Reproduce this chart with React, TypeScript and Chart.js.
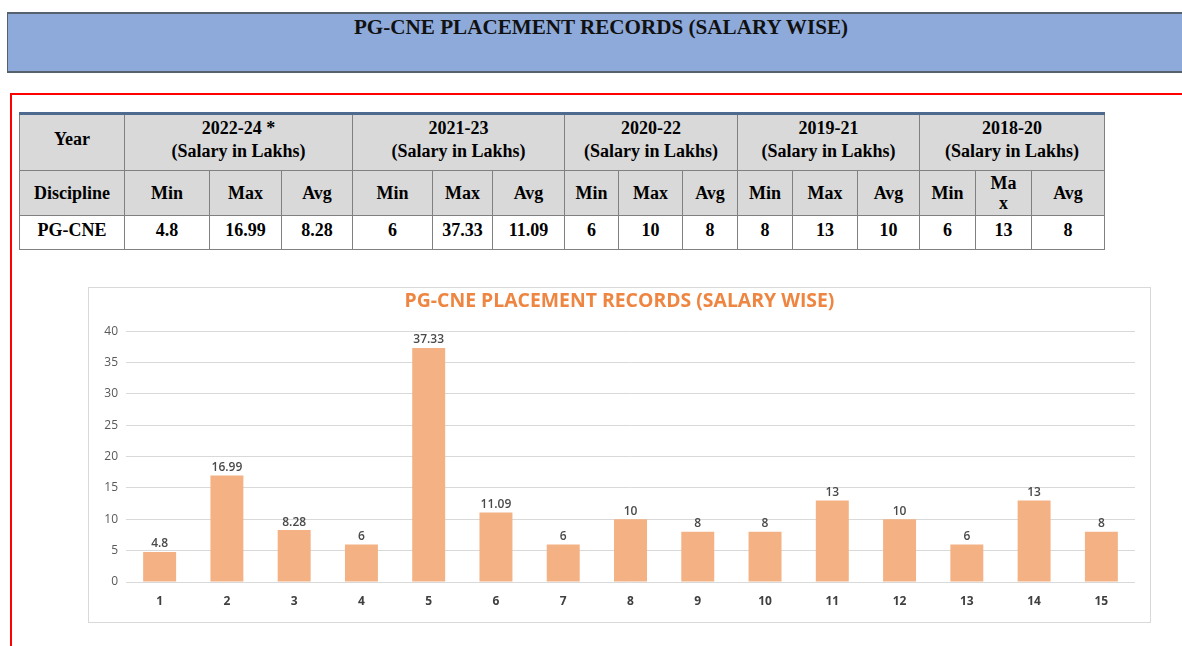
import React, { useEffect, useRef } from "react";
import { Chart, registerables } from "chart.js";

Chart.register(...registerables);

const pageTitle = "PG-CNE PLACEMENT RECORDS (SALARY WISE)";
const chartTitle = "PG-CNE PLACEMENT RECORDS (SALARY WISE)";
const discipline = "PG-CNE";
const periods = ["2022-24 *", "2021-23", "2020-22", "2019-21", "2018-20"];
const minSalary = ["4.8", "6", "6", "8", "6"];
const maxSalary = ["16.99", "37.33", "10", "13", "13"];
const avgSalary = ["8.28", "11.09", "8", "10", "8"];

const categories = ["1", "2", "3", "4", "5", "6", "7", "8", "9", "10", "11", "12", "13", "14", "15"];
const salaryValues = [4.8, 16.99, 8.28, 6, 37.33, 11.09, 6, 10, 8, 8, 13, 10, 6, 13, 8];
const yTicks = [0, 5, 10, 15, 20, 25, 30, 35, 40];

const colWidths = [105, 85, 72, 71, 80, 60, 72, 54, 64, 55, 55, 65, 62, 56, 56, 73];

const cellBorder = "1px solid #808080";
const serif = "'Liberation Serif', 'Times New Roman', serif";

const dataLabelPlugin = {
  id: "dataLabels",
  afterDatasetsDraw(chart: any) {
    const ctx = chart.ctx;
    const meta = chart.getDatasetMeta(0);
    const data = chart.data.datasets[0].data;
    ctx.save();
    ctx.font = "600 12px 'Open Sans', sans-serif";
    ctx.fillStyle = "#4A4A4A";
    ctx.textAlign = "center";
    ctx.textBaseline = "bottom";
    meta.data.forEach((el: any, i: number) => {
      ctx.fillText(String(data[i]), el.x, el.y - 2);
    });
    ctx.restore();
  },
};

function SalaryChart() {
  const ref = useRef<HTMLCanvasElement | null>(null);
  useEffect(() => {
    if (!ref.current) return;
    const chart = new Chart(ref.current, {
      type: "bar",
      data: {
        labels: categories,
        datasets: [
          {
            data: salaryValues,
            backgroundColor: "#F4B183",
            borderWidth: 0,
            categoryPercentage: 1,
            barPercentage: 0.49,
          },
        ],
      },
      options: {
        animation: false,
        responsive: false,
        maintainAspectRatio: false,
        layout: { padding: { left: 15, right: 15, top: 0, bottom: 0 } },
        plugins: {
          legend: { display: false },
          tooltip: { enabled: false },
          title: {
            display: true,
            text: chartTitle,
            color: "#EE8642",
            font: { family: "'Open Sans', sans-serif", size: 19.4, weight: "bold" },
            padding: { top: 2, bottom: 18 },
          },
        },
        scales: {
          x: {
            grid: { display: false, drawTicks: false },
            border: { display: false },
            ticks: {
              color: "#404040",
              font: { family: "'Open Sans', sans-serif", size: 12, weight: "bold" },
              padding: 12,
            },
            afterFit: (s: any) => {
              s.height = 40;
            },
          },
          y: {
            min: 0,
            max: 40,
            afterBuildTicks: (s: any) => {
              s.ticks = yTicks.map((v) => ({ value: v }));
            },
            grid: { color: "#D9D9D9", drawTicks: false, lineWidth: 1 },
            border: { display: false },
            ticks: {
              color: "#595959",
              font: { family: "'Open Sans', sans-serif", size: 12 },
              padding: 8,
            },
            afterFit: (s: any) => {
              s.width = 22;
            },
          },
        },
      },
      plugins: [dataLabelPlugin],
    });
    return () => chart.destroy();
  }, []);
  return <canvas ref={ref} width={1061} height={334} style={{ display: "block" }} />;
}

export default function App() {
  const th: React.CSSProperties = {
    border: cellBorder,
    background: "#D9D9D9",
    fontWeight: "bold",
    textAlign: "center",
    padding: 0,
    lineHeight: "23px",
  };
  const td: React.CSSProperties = {
    border: cellBorder,
    background: "#FFFFFF",
    fontWeight: "bold",
    textAlign: "center",
    padding: 0,
  };
  const th1: React.CSSProperties = { ...th, paddingBottom: 6 };
  return (
    <div
      style={{
        position: "absolute",
        left: 0,
        top: 0,
        width: 1182,
        height: 646,
        overflow: "hidden",
        background: "#FFFFFF",
      }}
    >
      {/* top banner */}
      <div
        style={{
          position: "absolute",
          left: 7,
          top: 12,
          width: 1200,
          height: 57,
          background: "#8EAADB",
          borderTop: "2px solid #56616E",
          borderBottom: "2px solid #56616E",
          borderLeft: "1px solid #56616E",
        }}
      >
        <div
          style={{
            position: "absolute",
            left: 293,
            top: 0,
            width: 600,
            textAlign: "center",
            fontFamily: serif,
            fontWeight: "bold",
            fontSize: 22,
            color: "#111111",
            whiteSpace: "nowrap",
            transform: "scaleX(0.96)",
            transformOrigin: "center",
          }}
        >
          {pageTitle}
        </div>
      </div>

      {/* red frame */}
      <div
        style={{
          position: "absolute",
          left: 10,
          top: 93,
          width: 1200,
          height: 600,
          border: "2px solid #FF0000",
        }}
      />

      {/* table */}
      <table
        style={{
          position: "absolute",
          left: 19,
          top: 112,
          borderCollapse: "collapse",
          tableLayout: "fixed",
          width: 1085,
          fontFamily: serif,
          fontSize: 18,
          color: "#000000",
          borderTop: "3px solid #4F6A8F",
        }}
      >
        <colgroup>
          {colWidths.map((w, i) => (
            <col key={i} style={{ width: w }} />
          ))}
        </colgroup>
        <tbody>
          <tr style={{ height: 57 }}>
            <th style={th1}>Year</th>
            {periods.map((p, i) => (
              <th key={i} colSpan={3} style={th1}>
                {p}
                <br />
                (Salary in Lakhs)
              </th>
            ))}
          </tr>
          <tr style={{ height: 45 }}>
            <th style={th}>Discipline</th>
            {periods.map((p, i) => (
              <React.Fragment key={i}>
                <th style={th}>Min</th>
                <th style={{ ...th, lineHeight: i === 4 ? "20px" : "23px" }}>
                  {i === 4 ? (
                    <>
                      Ma
                      <br />x
                    </>
                  ) : (
                    "Max"
                  )}
                </th>
                <th style={th}>Avg</th>
              </React.Fragment>
            ))}
          </tr>
          <tr style={{ height: 34 }}>
            <td style={{ ...td, paddingBottom: 4 }}>{discipline}</td>
            {periods.map((p, i) => (
              <React.Fragment key={i}>
                <td style={{ ...td, paddingBottom: 4 }}>{minSalary[i]}</td>
                <td style={{ ...td, paddingBottom: 4 }}>{maxSalary[i]}</td>
                <td style={{ ...td, paddingBottom: 4 }}>{avgSalary[i]}</td>
              </React.Fragment>
            ))}
          </tr>
        </tbody>
      </table>

      {/* chart frame */}
      <div
        style={{
          position: "absolute",
          left: 88,
          top: 287,
          width: 1061,
          height: 334,
          border: "1px solid #D9D9D9",
          background: "#FFFFFF",
        }}
      >
        <SalaryChart />
      </div>
    </div>
  );
}
